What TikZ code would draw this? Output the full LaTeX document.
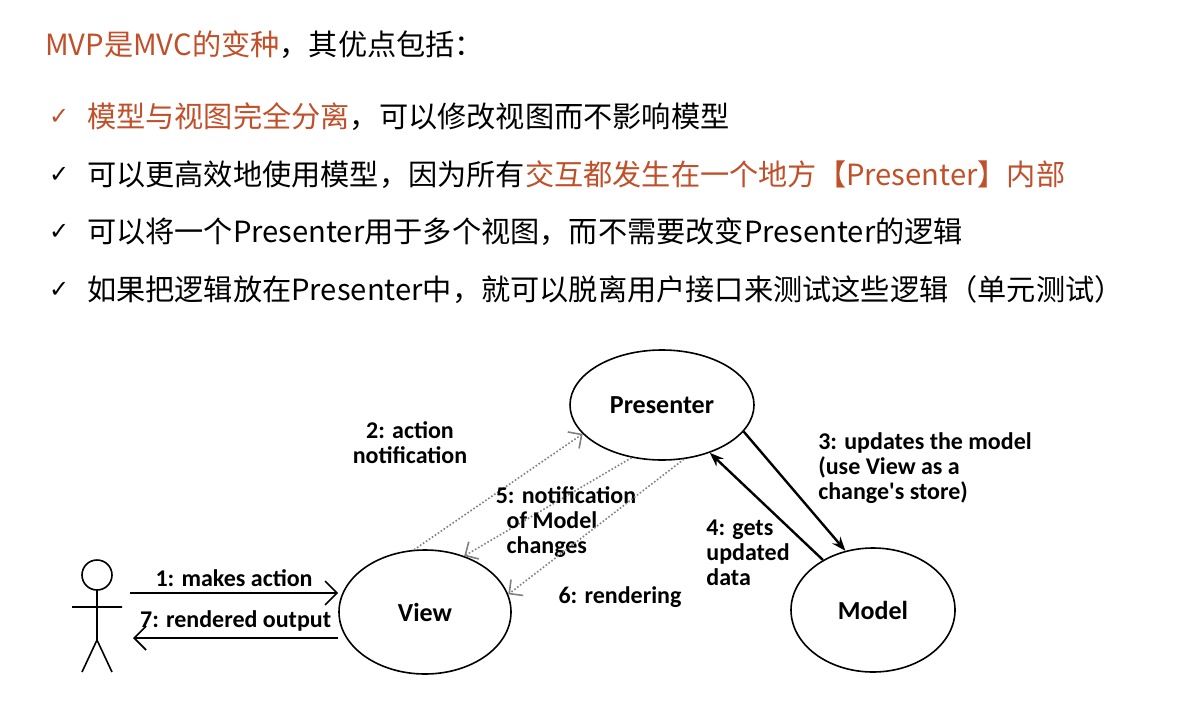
\documentclass[tikz,border=0pt]{standalone}
\usepackage{fontspec}
\usepackage{tikz}
\usetikzlibrary{arrows.meta,shapes.geometric}
\setmainfont{Noto Sans CJK SC}
\newfontfamily\labfont{Carlito}
\newfontfamily\symfont{DejaVu Sans}
\definecolor{highlightcolor}{HTML}{C0502A}
\tikzset{
    bullettext/.style={anchor=west, font=\fontsize{14.6}{17}\selectfont},
    checkmark/.style={anchor=west, font=\symfont\fontsize{12}{14}\selectfont},
    roleellipse/.style={draw, ellipse, thick, inner sep=0pt, font=\labfont\bfseries\fontsize{13}{15}\selectfont},
    msglabel/.style={font=\labfont\bfseries\fontsize{12}{12.5}\selectfont, align=left, inner sep=1pt},
    msgdotted/.style={gray, densely dotted, thick, -{Straight Barb[length=5pt]}},
    msgsolid/.style={very thick, -{Stealth[length=7pt]}},
    msgplain/.style={thick, -{Straight Barb[length=6pt]}}
}
\begin{document}
\begin{tikzpicture}[x=0.5pt,y=-0.5pt]
\useasboundingbox (0,0) rectangle (1202,716);
% heading and list
\node[bullettext] (title) at (38,45) {\textcolor{highlightcolor}{MVP是MVC的变种}，其优点包括：};
\node[checkmark, text=highlightcolor] (c1) at (42,117) {✓};
\node[bullettext] (t1) at (80,117) {\textcolor{highlightcolor}{模型与视图完全分离}，可以修改视图而不影响模型};
\node[checkmark] (c2) at (42,175) {✓};
\node[bullettext] (t2) at (80,175) {可以更高效地使用模型，因为所有\textcolor{highlightcolor}{交互都发生在一个地方【Presenter】内部}};
\node[checkmark] (c3) at (42,232) {✓};
\node[bullettext] (t3) at (80,232) {可以将一个Presenter用于多个视图，而不需要改变Presenter的逻辑};
\node[checkmark] (c4) at (42,290) {✓};
\node[bullettext] (t4) at (80,290) {如果把逻辑放在Presenter中，就可以脱离用户接口来测试这些逻辑（单元测试）};
% roles
\draw[thick] (97,575) circle (15);
\draw[thick] (97,590) -- (97,640) (72,607) -- (122,607) (97,640) -- (82,672) (97,640) -- (112,672);
\coordinate (user1) at (130,593);
\coordinate (user7) at (133,638);
\node[roleellipse, minimum width=92pt, minimum height=55pt] (presenter) at (662,405) {Presenter};
\node[roleellipse, minimum width=86pt, minimum height=62pt] (view) at (425,612) {View};
\node[roleellipse, minimum width=82pt, minimum height=62pt] (model) at (873,610) {Model};
% messages
\draw[msgplain] (user1) -- (view.west |- user1) node[msglabel, midway, above=2pt] {1: makes action};
\draw[msgplain] (view.west |- user7) -- (user7) node[msglabel, midway, above=2pt] {7: rendered output};
\draw[msgdotted] (view.100) -- (presenter.200);
\node[msglabel, align=center] (l2) at (410,443) {2: action\\notification};
\draw[msgdotted] (presenter.240) -- (view.55);
\node[msglabel] (l5) at (566,522) {5: notification\\\ \ of Model\\\ \ changes};
\draw[msgdotted] (presenter.292) -- (view.12);
\node[msglabel] (l6) at (620,597) {6: rendering};
\draw[msgsolid] (presenter.-18) -- (model.115);
\node[msglabel] (l3) at (925,468) {3: updates the model\\(use View as a\\change's store)};
\draw[msgsolid] (model.135) -- (presenter.-45);
\node[msglabel] (l4) at (748,553) {4: gets\\updated\\data};
\end{tikzpicture}
\end{document}
